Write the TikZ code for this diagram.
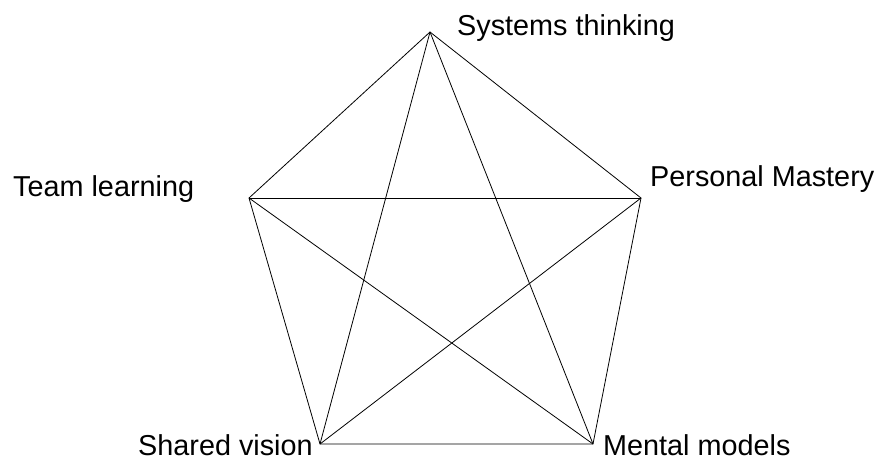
\documentclass[tikz,border=0pt]{standalone}
\usepackage{fontspec}
\setmainfont{Liberation Sans}
\begin{document}
\begin{tikzpicture}[x=1pt,y=-1pt,
  edge/.style={black,line width=0.8pt},
  lbl/.style={anchor=base west,inner sep=0pt,font=\fontsize{28.8}{32}\selectfont}]
\useasboundingbox (0,0) rectangle (882,461);
% pentagon corners
\coordinate (st) at (430,32);
\coordinate (pm) at (641,198);
\coordinate (mm) at (593,444);
\coordinate (sv) at (320,444);
\coordinate (tl) at (249,198);
% outer pentagon
\draw[edge] (st) -- (pm) -- (mm) -- (sv) -- (tl) -- cycle;
% inner star
\draw[edge] (st) -- (mm);
\draw[edge] (st) -- (sv);
\draw[edge] (tl) -- (pm);
\draw[edge] (tl) -- (mm);
\draw[edge] (pm) -- (sv);
% labels
\node[lbl] (lst) at (457,35) {Systems thinking};
\node[lbl] (lpm) at (650,186) {Personal Mastery};
\node[lbl] (ltl) at (13,196) {Team learning};
\node[lbl] (lsv) at (138,455) {Shared vision};
\node[lbl] (lmm) at (603,455) {Mental models};
\end{tikzpicture}
\end{document}
